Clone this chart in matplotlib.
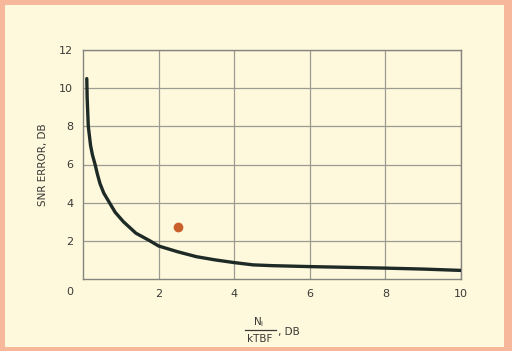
import matplotlib.pyplot as plt
from matplotlib.patches import Rectangle
from matplotlib.lines import Line2D

# SNR error curve vs normalised input noise
noise_db = [0.1, 0.11, 0.12, 0.14, 0.17, 0.2, 0.25, 0.32, 0.38, 0.45, 0.55, 0.7, 0.85,
            1.07, 1.4, 1.77, 2.0, 2.5, 3.0, 3.5, 4.0, 4.5, 5.0, 6.0, 7.0, 8.0, 9.0, 10.0]
snr_err_db = [10.5, 9.5, 9.0, 8.0, 7.5, 7.0, 6.5, 6.0, 5.5, 5.0, 4.5, 4.0, 3.5,
              3.0, 2.4, 2.0, 1.73, 1.43, 1.17, 1.0, 0.86, 0.74, 0.7, 0.65, 0.61, 0.57, 0.52, 0.45]

# single measured point
meas_x = [2.5]
meas_y = [2.75]

x_ticks = [2, 4, 6, 8, 10]
y_ticks = [2, 4, 6, 8, 10, 12]

cream = "#fef8dc"
pink = "#f7b79a"
ink = "#3a3a36"

fig = plt.figure(figsize=(5.12, 3.51), dpi=100)
fig.patch.set_facecolor(pink)
fig.patches.append(Rectangle((5 / 512, 4 / 351), 499 / 512, 342 / 351,
                             transform=fig.transFigure, facecolor=cream,
                             edgecolor="none", zorder=-1))

ax = fig.add_axes([83 / 512, 1 - 279 / 351, 378 / 512, 229 / 351])
ax.set_zorder(1)
ax.set_facecolor(cream)
ax.set_xlim(0, 10)
ax.set_ylim(0, 12)

ax.set_xticks(x_ticks)
ax.set_yticks(y_ticks)
ax.tick_params(length=0, labelsize=8, colors=ink, pad=7)
ax.grid(True, color="#9c9c92", linewidth=0.9)
for s in ax.spines.values():
    s.set_color("#858580")
    s.set_linewidth(1.0)

ax.text(-0.35, -0.7, "0", ha="center", va="center", fontsize=8, color=ink)

ax.plot(noise_db, snr_err_db, color="#1e2a26", linewidth=2.4,
        solid_capstyle="round", solid_joinstyle="round", zorder=3)
ax.plot(meas_x, meas_y, "o", color="#c9602c", markersize=6, zorder=4)

ax.set_ylabel("SNR ERROR, DB", fontsize=7.5, color=ink, labelpad=8)

# x label drawn as a stacked fraction: Ni over kTBF, then ", DB"
def fy(py):
    return 1 - py / 351

fig.text(259 / 512, fy(322), r"N$_\mathrm{i}$", ha="center", va="center", fontsize=7.5, color=ink)
fig.add_artist(Line2D([245 / 512, 276 / 512], [fy(330), fy(330)], color=ink, linewidth=0.9))
fig.text(260 / 512, fy(339), "kTBF", ha="center", va="center", fontsize=7.5, color=ink)
fig.text(278 / 512, fy(332), ", DB", ha="left", va="center", fontsize=7.5, color=ink)

fig.savefig("out.png", dpi=100, facecolor=fig.get_facecolor())
